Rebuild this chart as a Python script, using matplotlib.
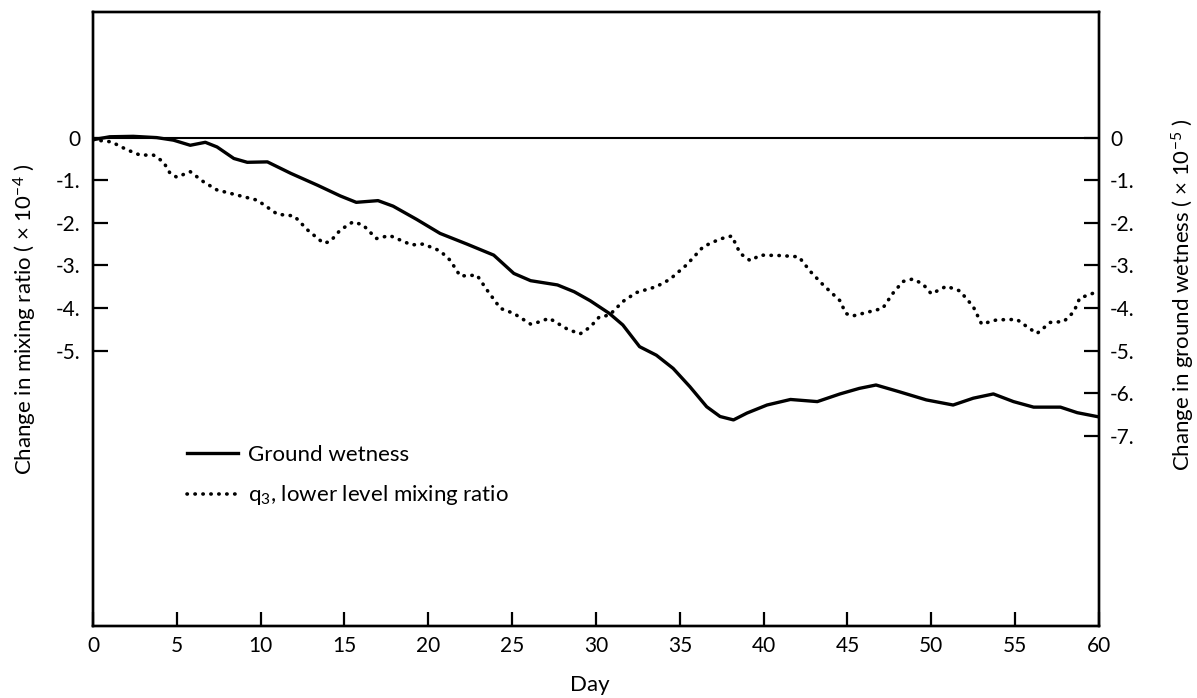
import matplotlib
matplotlib.use('Agg')
import matplotlib.pyplot as plt

plt.rcParams['font.family'] = ['Lato', 'DejaVu Sans']
plt.rcParams['mathtext.default'] = 'regular'

# ground wetness, right axis (x 10^-5)
gw_day = [0, 1.0, 2.4, 3.8, 4.8, 5.8, 6.7, 7.4, 8.4, 9.2,
          10.4, 11.8, 13.4, 14.75, 15.7, 17.0, 17.9, 19.3, 20.7, 22.3,
          23.9, 25.1, 26.1, 27.7, 28.7, 29.65, 30.8, 31.6, 32.6, 33.6,
          34.6, 35.6, 36.6, 37.4, 38.2, 39.0, 40.2, 41.6, 43.2, 44.55,
          45.7, 46.7, 48.1, 49.7, 51.3, 52.5, 53.7, 54.9, 56.1, 57.7,
          58.7, 60]
gw = [-0.05, 0.02, 0.03, 0.0, -0.06, -0.18, -0.11, -0.22, -0.49, -0.58,
      -0.57, -0.84, -1.12, -1.37, -1.52, -1.48, -1.61, -1.92, -2.25, -2.50,
      -2.76, -3.19, -3.36, -3.46, -3.62, -3.83, -4.13, -4.40, -4.91, -5.11,
      -5.42, -5.85, -6.32, -6.55, -6.63, -6.47, -6.28, -6.15, -6.20, -6.02,
      -5.89, -5.81, -5.97, -6.16, -6.28, -6.12, -6.02, -6.20, -6.33, -6.33,
      -6.46, -6.56]

# q3 lower level mixing ratio, left axis (x 10^-4)
q3_day = [0, 1.1, 2.0, 2.8, 3.6, 4.2, 4.6, 5.0, 5.8, 6.6,
          7.4, 8.6, 9.8, 11.0, 12.0, 12.8, 13.75, 14.15, 14.75, 15.5,
          16.1, 16.9, 17.7, 19.0, 19.7, 20.7, 21.3, 21.9, 22.9, 23.5,
          24.3, 25.1, 26.1, 26.7, 27.2, 28.3, 29.05, 29.65, 30.2, 30.8,
          31.6, 32.4, 33.6, 34.4, 35.4, 36.4, 37.4, 38.1, 38.6, 39.2,
          39.8, 41.0, 42.1, 42.8, 43.55, 44.55, 44.9, 45.3, 46.1, 47.1,
          47.7, 48.3, 48.9, 49.5, 50.0, 50.9, 51.7, 52.5, 53.0, 53.9,
          55.1, 55.7, 56.3, 57.1, 57.9, 58.5, 58.85, 59.75]
q3 = [-0.05, -0.10, -0.28, -0.41, -0.41, -0.57, -0.84, -0.93, -0.80, -1.04,
      -1.23, -1.35, -1.47, -1.80, -1.84, -2.17, -2.48, -2.44, -2.17, -1.98,
      -2.05, -2.37, -2.30, -2.52, -2.50, -2.66, -2.88, -3.25, -3.23, -3.58,
      -4.01, -4.13, -4.38, -4.32, -4.24, -4.50, -4.61, -4.45, -4.21, -4.17,
      -3.85, -3.64, -3.50, -3.33, -2.99, -2.56, -2.38, -2.31, -2.72, -2.89,
      -2.76, -2.77, -2.80, -3.15, -3.46, -3.83, -4.13, -4.19, -4.11, -4.01,
      -3.66, -3.38, -3.32, -3.44, -3.67, -3.49, -3.60, -3.97, -4.38, -4.28,
      -4.27, -4.44, -4.60, -4.34, -4.32, -4.09, -3.77, -3.64]

day_ticks = list(range(0, 61, 5))
left_ticks = [0, -1, -2, -3, -4, -5]
right_ticks = [0, -1, -2, -3, -4, -5, -6, -7]

W, H = 1197, 698
fig = plt.figure(figsize=(W / 100, H / 100), dpi=100)
ax = fig.add_axes([93 / W, 72 / H, 1006 / W, 614 / H])
ax2 = ax.twinx()

for a in (ax, ax2):
    a.set_xlim(0, 60)
    a.set_ylim(-11.47, 2.95)
    for s in a.spines.values():
        s.set_linewidth(1.7)

ax.axhline(0, color='black', lw=1.5)
q3_line, = ax.plot(q3_day, q3, color='black', lw=2.6, linestyle=(0, (0.1, 2.1)),
                   dash_capstyle='round', label='q$_3$, lower level mixing ratio')
gw_line, = ax2.plot(gw_day, gw, color='black', lw=2.4, label='Ground wetness')

ax.set_xticks(day_ticks)
ax.set_xticklabels([str(d) for d in day_ticks])
ax.set_yticks(left_ticks)
ax.set_yticklabels(['0'] + ['%d.' % t for t in left_ticks[1:]])
ax2.set_yticks(right_ticks)
ax2.set_yticklabels(['0'] + ['%d.' % t for t in right_ticks[1:]])

ax.tick_params(axis='x', direction='in', length=10, width=1.6, pad=7, labelsize=15)
ax.tick_params(axis='y', direction='in', length=11, width=1.6, pad=9, labelsize=15)
ax2.tick_params(axis='y', direction='in', length=11, width=1.6, pad=8, labelsize=15)

fig.text(25 / W, 1 - 319 / H, 'Change in mixing ratio ( × 10$^{-4}$ )',
         rotation=90, ha='center', va='center', fontsize=16)
fig.text(1183 / W, 1 - 295 / H, 'Change in ground wetness ( × 10$^{-5}$ )',
         rotation=90, ha='center', va='center', fontsize=16)
fig.text(590 / W, 1 - 685 / H, 'Day', ha='center', va='center', fontsize=16)

ax.legend(handles=[gw_line, q3_line], loc='center left',
          bbox_to_anchor=(187 / W, 1 - 476 / H), bbox_transform=fig.transFigure,
          frameon=False, fontsize=16, handlelength=2.3, handletextpad=0.45,
          labelspacing=0.85, borderpad=0, borderaxespad=0)

fig.savefig('out.png', dpi=100)
